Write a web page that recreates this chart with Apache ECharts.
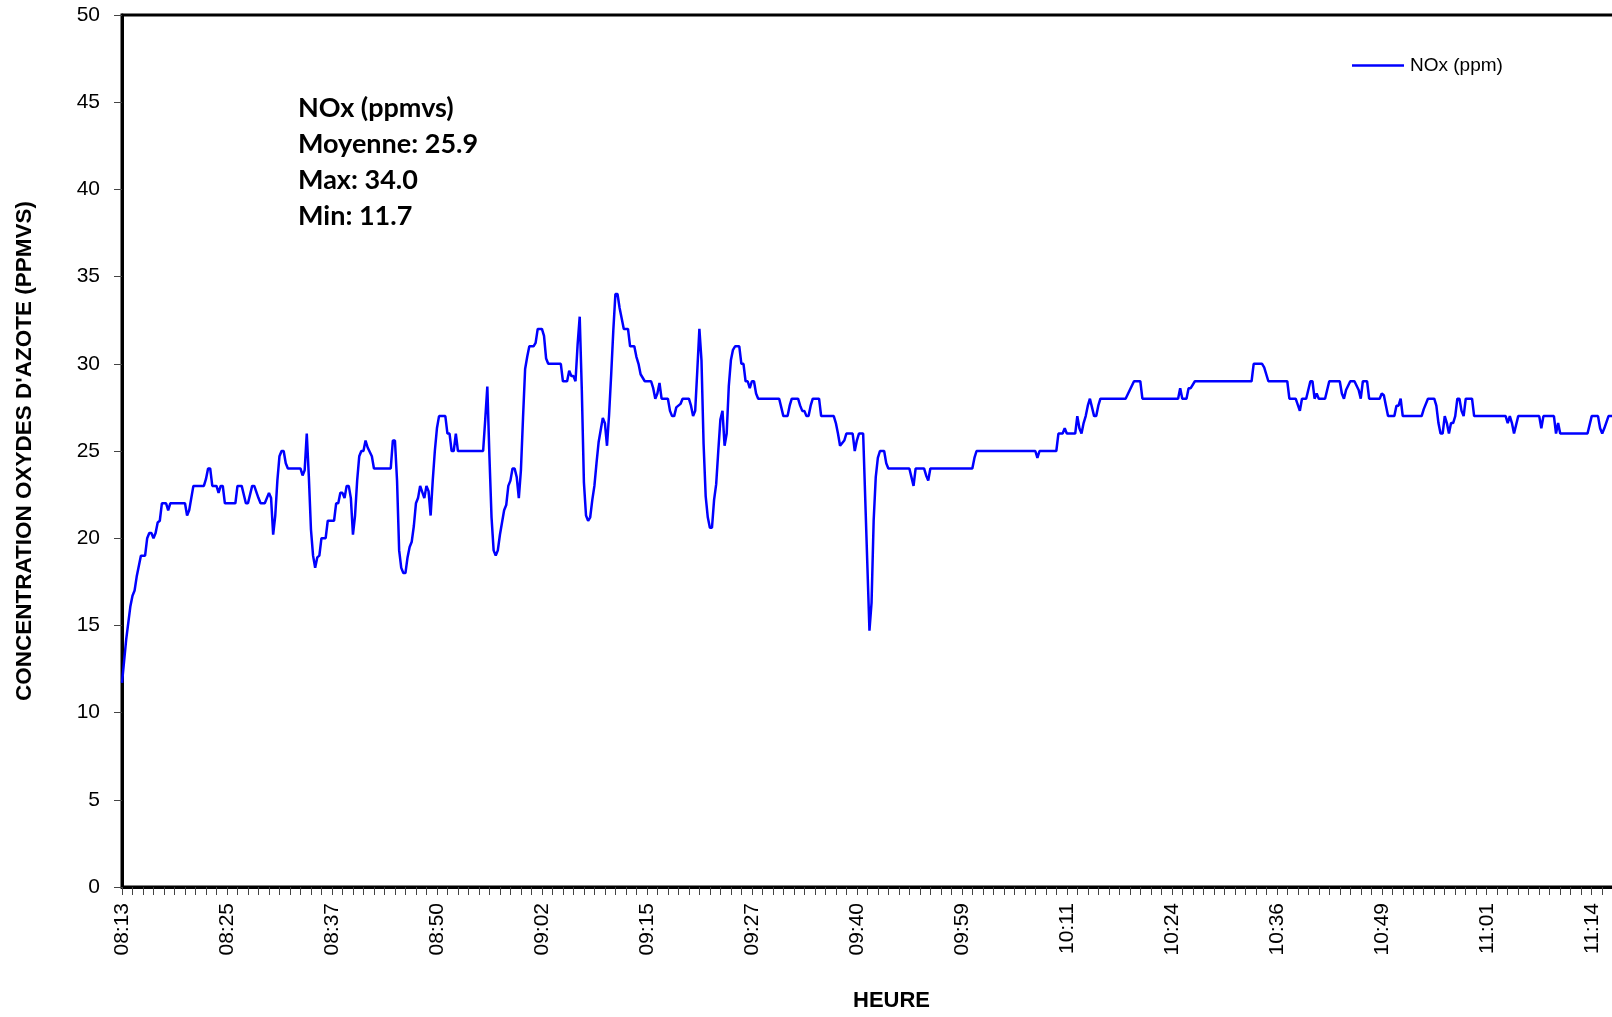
<!DOCTYPE html>
<html>
<head>
<meta charset="utf-8">
<title>NOx</title>
<script src="https://cdn.jsdelivr.net/npm/echarts@6/dist/echarts.min.js"></script>
<style>
  html, body { margin: 0; padding: 0; overflow: hidden; background: #ffffff; }
  #chart { width: 1700px; height: 1017px; }
</style>
</head>
<body>
<div id="chart"></div>
<script>
// Time labels, one every 50 samples
const tickLabels = ['08:13', '08:25', '08:37', '08:50', '09:02', '09:15', '09:27', '09:40',
                    '09:59', '10:11', '10:24', '10:36', '10:49', '11:01', '11:14'];

// Sample number of each vertex of the NOx trace
const sampleIndex = [
  0, 2, 4, 5, 6, 7, 9, 11, 12, 13, 14, 15, 16, 17, 18, 19, 21, 22, 23, 30,
  31, 32, 34, 39, 40, 41, 42, 43, 45, 46, 47, 48, 49, 54, 55, 57, 59, 60, 62, 63,
  65, 66, 68, 70, 71, 72, 73, 74, 75, 76, 77, 78, 79, 85, 86, 87, 88, 89, 90, 91,
  92, 93, 94, 95, 97, 98, 101, 102, 103, 104, 105, 106, 107, 108, 109, 110, 111, 112, 113, 114,
  115, 116, 117, 119, 120, 128, 129, 130, 131, 132, 133, 134, 135, 136, 137, 138, 139, 140, 141, 142,
  144, 145, 146, 147, 148, 149, 150, 151, 154, 155, 156, 157, 158, 159, 160, 172, 173, 174, 175, 176,
  177, 178, 179, 180, 182, 183, 184, 185, 186, 187, 188, 189, 190, 191, 192, 193, 194, 196, 197, 198,
  200, 201, 202, 203, 209, 210, 212, 213, 214, 215, 216, 217, 218, 219, 220, 221, 222, 223, 224, 225,
  226, 227, 228, 229, 230, 231, 232, 233, 234, 235, 236, 237, 238, 239, 241, 242, 244, 245, 246, 247,
  248, 249, 252, 253, 254, 255, 256, 257, 260, 261, 262, 263, 264, 265, 266, 267, 270, 271, 272, 273,
  274, 275, 276, 277, 278, 279, 280, 281, 282, 283, 284, 285, 286, 287, 288, 289, 290, 291, 292, 294,
  295, 296, 297, 298, 299, 300, 301, 302, 303, 313, 314, 315, 317, 318, 319, 322, 323, 324, 325, 326,
  327, 328, 329, 332, 333, 339, 340, 341, 342, 344, 345, 348, 349, 350, 351, 353, 356, 357, 358, 359,
  360, 361, 363, 364, 365, 375, 376, 377, 378, 382, 383, 384, 385, 405, 406, 407, 435, 436, 437, 445,
  446, 448, 449, 450, 454, 455, 456, 457, 458, 459, 460, 461, 462, 463, 464, 465, 466, 478, 480, 482,
  485, 486, 503, 504, 505, 507, 508, 509, 511, 538, 539, 543, 544, 546, 555, 556, 559, 561, 562, 564,
  565, 566, 567, 568, 569, 570, 573, 574, 575, 580, 581, 582, 583, 585, 587, 589, 590, 591, 593, 594,
  599, 600, 601, 602, 603, 606, 607, 608, 609, 610, 619, 620, 622, 625, 626, 627, 628, 629, 630, 631,
  632, 633, 634, 635, 636, 637, 638, 639, 640, 643, 644, 659, 660, 661, 662, 663, 665, 675, 676, 677,
  682, 683, 684, 685, 698, 700, 703, 704, 705, 706, 708, 714
];

// NOx concentration (ppmvs) at those samples
const noxValues = [
  11.7, 14.2, 16.1, 16.7, 17.0, 17.8, 19, 19, 20, 20.3, 20.3, 20, 20.3, 20.9, 21, 22, 22, 21.6, 22, 22,
  21.3, 21.6, 23, 23, 23.4, 24, 24, 23, 23, 22.6, 23, 23, 22, 22, 23, 23, 22, 22, 23, 23,
  22.3, 22, 22, 22.6, 22.3, 20.2, 21.3, 23.3, 24.7, 25, 25, 24.3, 24, 24, 23.6, 23.9, 26, 23.5, 20.5, 19,
  18.3, 18.9, 19, 20, 20, 21, 21, 22, 22, 22.6, 22.6, 22.3, 23, 23, 22.3, 20.2, 21.3, 23.3, 24.7, 25,
  25, 25.6, 25.2, 24.7, 24, 24, 25.6, 25.6, 23.3, 19.3, 18.3, 18, 18, 18.9, 19.5, 19.8, 20.7, 22, 22.3, 23,
  22.3, 23, 22.7, 21.3, 23.3, 25, 26.3, 27, 27, 26, 26, 25, 25, 26, 25, 25, 26.8, 28.7, 24.7, 21.2,
  19.3, 19, 19.3, 20.2, 21.6, 21.9, 23, 23.3, 24, 24, 23.5, 22.3, 23.9, 26.9, 29.7, 30.4, 31, 31, 31.2, 32,
  32, 31.6, 30.3, 30, 30, 29, 29, 29.6, 29.3, 29.3, 29, 31.1, 32.7, 28.5, 23.2, 21.3, 21, 21.2, 22.2, 23,
  24.3, 25.5, 26.2, 26.9, 26.6, 25.3, 27.1, 29.4, 31.9, 34, 34, 33.2, 32.6, 32, 32, 31, 31, 30.4, 30, 29.4,
  29.2, 29, 29, 28.6, 28, 28.3, 28.9, 28, 28, 27.3, 27, 27, 27.5, 27.6, 27.7, 28, 28, 27.6, 27, 27.3,
  29.6, 32, 30.2, 25.4, 22.4, 21.2, 20.6, 20.6, 22.2, 23.1, 25, 26.8, 27.3, 25.3, 26, 28.7, 30.2, 30.8, 31, 31,
  30, 30, 29, 29, 28.6, 29, 29, 28.3, 28, 28, 27.5, 27, 27, 27.6, 28, 28, 27.6, 27.3, 27.3, 27,
  27, 27.6, 28, 28, 27, 27, 26.6, 26, 25.3, 25.6, 26, 26, 25, 25.6, 26, 26, 14.7, 16.3, 21, 23.5,
  24.6, 25, 25, 24.3, 24, 24, 23.5, 23, 24, 24, 23.6, 23.3, 24, 24, 24.6, 25, 25, 24.6, 25, 25,
  26, 26, 26.3, 26, 26, 27, 26.3, 26, 26.6, 27, 27.6, 28, 27.5, 27, 27, 27.6, 28, 28, 28.5, 29,
  29, 28, 28, 28.6, 28, 28, 28.6, 28.6, 29, 29, 30, 30, 29.8, 29, 29, 28, 28, 27.3, 28, 28,
  28.5, 29, 29, 28, 28.3, 28, 28, 28.5, 29, 29, 28.3, 28, 28.5, 29, 29, 28.5, 28, 29, 29, 28,
  28, 28.3, 28.2, 27.6, 27, 27, 27.6, 27.6, 28, 27, 27, 27.4, 28, 28, 27.6, 26.6, 26, 26, 27, 26.6,
  26, 26.6, 26.6, 27, 28, 28, 27.3, 27, 28, 28, 27, 27, 26.6, 27, 26.6, 26, 27, 27, 26.3, 27,
  27, 26, 26.6, 26, 26, 27, 27, 26.3, 26, 26.3, 27, 27
];

// Summary block shown inside the plot
const statsLines = ['NOx (ppmvs)', 'Moyenne: 25.9', 'Max: 34.0', 'Min: 11.7'];

const seriesName = 'NOx (ppm)';
const axisFont = 'Liberation Sans';

const chart = echarts.init(document.getElementById('chart'));

chart.setOption({
  animation: false,
  backgroundColor: '#ffffff',
  grid: {
    left: 122, top: 15, width: 1539, height: 879,
    show: true, borderColor: '#000000', borderWidth: 3, backgroundColor: 'transparent'
  },
  legend: {
    data: [{ name: seriesName, icon: 'rect' }],
    left: 1352, top: 56, padding: 0,
    itemWidth: 52, itemHeight: 2.5,
    itemStyle: { color: '#0000ff' },
    textStyle: { fontFamily: axisFont, fontSize: 19, color: '#000000', padding: [0, 0, 0, 1] }
  },
  xAxis: {
    type: 'value',
    min: 0, max: 733, interval: 50,
    name: 'HEURE', nameLocation: 'middle', nameGap: 103,
    nameTextStyle: { fontFamily: axisFont, fontWeight: 'bold', fontSize: 22, color: '#000000' },
    axisLine: { show: true, onZero: false, lineStyle: { color: '#000000', width: 3 } },
    axisTick: { show: true, length: 8, lineStyle: { color: '#444444', width: 1 } },
    minorTick: { show: true, splitNumber: 10, length: 8, lineStyle: { color: '#444444', width: 1 } },
    axisLabel: {
      rotate: 90, margin: 16, fontFamily: axisFont, fontSize: 21, color: '#000000',
      showMaxLabel: false,
      formatter: function (v) {
        return v % 50 === 0 && tickLabels[v / 50] !== undefined ? tickLabels[v / 50] : '';
      }
    },
    splitLine: { show: false },
    minorSplitLine: { show: false }
  },
  yAxis: {
    type: 'value',
    min: 0, max: 50, interval: 5,
    name: "CONCENTRATION OXYDES D'AZOTE (PPMVS)",
    nameLocation: 'middle', nameGap: 86, nameRotate: 90,
    nameTextStyle: { fontFamily: axisFont, fontWeight: 'bold', fontSize: 22.5, color: '#000000' },
    axisLine: { show: true, lineStyle: { color: '#000000', width: 3 } },
    axisTick: { show: true, length: 8, lineStyle: { color: '#444444', width: 1 } },
    axisLabel: { margin: 22, fontFamily: axisFont, fontSize: 21, color: '#000000' },
    splitLine: { show: false }
  },
  graphic: statsLines.map(function (t, i) {
    return {
      type: 'text',
      x: 298, y: 108.5 + i * 35.8,
      style: { text: t, font: 'bold 27px Lato', fill: '#000000', verticalAlign: 'middle', align: 'left' }
    };
  }),
  series: [{
    name: seriesName,
    type: 'line',
    data: sampleIndex.map(function (s, i) { return [s, noxValues[i]]; }),
    symbol: 'none',
    lineStyle: { color: '#0000ff', width: 2.5 },
    itemStyle: { color: '#0000ff' }
  }]
});
</script>
</body>
</html>
